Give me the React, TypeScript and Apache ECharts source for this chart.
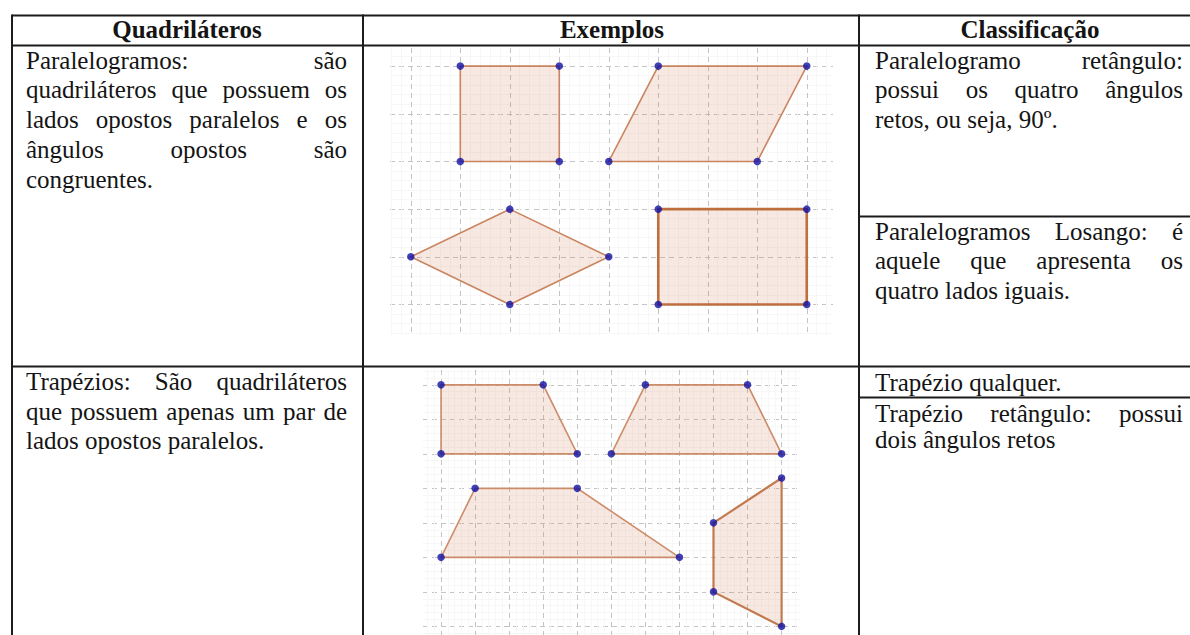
import React, { useEffect, useRef } from "react";
import * as echarts from "echarts";

// ---------- Text content ----------
const headers = ["Quadriláteros", "Exemplos", "Classificação"];

const textParalelogramos = [
  "Paralelogramos: são",
  "quadriláteros que possuem os",
  "lados opostos paralelos e os",
  "ângulos opostos são",
  "congruentes.",
];
const textTrapezios = [
  "Trapézios: São quadriláteros",
  "que possuem apenas um par de",
  "lados opostos paralelos.",
];
const textRetangulo = [
  "Paralelogramo retângulo:",
  "possui os quatro ângulos",
  "retos, ou seja, 90º.",
];
const textLosango = [
  "Paralelogramos Losango: é",
  "aquele que apresenta os",
  "quatro lados iguais.",
];
const textTrapezioQualquer = ["Trapézio qualquer."];
const textTrapezioRetangulo = ["Trapézio retângulo: possui", "dois ângulos retos"];

// ---------- Figure vertices (grid units) ----------
const quadrado = [[1, 0], [3, 0], [3, 2], [1, 2]];
const paralelogramo = [[5, 0], [8, 0], [7, 2], [4, 2]];
const losango = [[2, 3], [4, 4], [2, 5], [0, 4]];
const retangulo = [[5, 3], [8, 3], [8, 5], [5, 5]];

const trapezioRet = [[0, 0], [3, 0], [4, 2], [0, 2]];
const trapezioIso = [[6, 0], [9, 0], [10, 2], [5, 2]];
const trapezioEsc = [[1, 3], [4, 3], [7, 5], [0, 5]];
const trapezioVert = [[8, 4], [10, 2.7], [10, 7], [8, 6]];

const shapesTop = [quadrado, paralelogramo, losango, retangulo];
const shapesBottom = [trapezioRet, trapezioIso, trapezioEsc, trapezioVert];

// ---------- Styles ----------
const FONT_FAMILY = "Liberation Serif";
const FONT_SIZE = 25;
const TEXT_COLOR = "#141414";
const BORDER = "#1c1c1c";
const FILL = "rgba(205,120,85,0.17)";
const strokeTop = ["#c9855f", "#c9855f", "#c9855f", "#bf6e3e"];
const widthTop = [1.6, 1.6, 1.6, 2.6];
const strokeBottom = ["#cc8c68", "#cc8c68", "#cc8c68", "#c27a50"];
const widthBottom = [1.6, 1.6, 1.6, 2.2];

let measureCtx: CanvasRenderingContext2D | null = null;
function measure(t: string, bold = false): number {
  if (!measureCtx) measureCtx = document.createElement("canvas").getContext("2d");
  if (!measureCtx) return t.length * FONT_SIZE * 0.45;
  measureCtx.font = `${bold ? "bold " : ""}${FONT_SIZE}px ${FONT_FAMILY}`;
  return measureCtx.measureText(t).width;
}

const MID_OFFSET = 8.4;

function textEl(text: string, x: number, baseline: number, opts: any = {}) {
  const style: any = {
    text,
    fontSize: FONT_SIZE,
    fontFamily: FONT_FAMILY,
    fill: TEXT_COLOR,
    textAlign: opts.align || "left",
    align: opts.align || "left",
    textVerticalAlign: "middle",
    verticalAlign: "middle",
  };
  if (opts.bold) style.fontWeight = "bold";
  return {
    type: "text",
    x,
    y: baseline - MID_OFFSET,
    silent: true,
    style,
  };
}

function paragraph(lines: string[], x0: number, x1: number, firstBaseline: number, step: number) {
  const els: any[] = [];
  lines.forEach((line, i) => {
    const base = firstBaseline + i * step;
    const words = line.split(" ");
    const justify = i < lines.length - 1 && words.length > 1;
    if (!justify) {
      els.push(textEl(line, x0, base));
      return;
    }
    const widths = words.map((w) => measure(w));
    const total = widths.reduce((a, b) => a + b, 0);
    const gap = (x1 - x0 - total) / (words.length - 1);
    let x = x0;
    words.forEach((w, k) => {
      if (k === words.length - 1) {
        els.push(textEl(w, x1, base, { align: "right" }));
      } else {
        els.push(textEl(w, x, base));
      }
      x += widths[k] + gap;
    });
  });
  return els;
}

function hline(x1: number, x2: number, y: number) {
  return { type: "line", silent: true, shape: { x1, y1: y, x2, y2: y }, style: { stroke: BORDER, lineWidth: 2 } };
}
function vline(x: number, y1: number, y2: number) {
  return { type: "line", silent: true, shape: { x1: x, y1, x2: x, y2 }, style: { stroke: BORDER, lineWidth: 2 } };
}

function axis(min: number, max: number, splitNumber: number, gridIndex: number, inverse = false) {
  return {
    type: "value",
    gridIndex,
    min,
    max,
    splitNumber,
    inverse,
    axisLine: { show: false },
    axisTick: { show: false },
    axisLabel: { show: false },
    splitLine: {
      show: true,
      showMinLine: false,
      showMaxLine: false,
      lineStyle: { color: "#c4c4c4", type: [5, 4], width: 1 },
    },
    minorTick: { show: false, splitNumber: 5 },
    minorSplitLine: { show: true, lineStyle: { color: "#f7f7f7", width: 1 } },
  };
}

function polySeries(shapes: number[][][], idx: number, strokes: string[], widths: number[]) {
  return {
    type: "custom",
    xAxisIndex: idx,
    yAxisIndex: idx,
    z: 2,
    data: shapes.map((s) => s[0]),
    renderItem: (params: any, api: any) => {
      const pts = shapes[params.dataIndex].map((p) => api.coord(p));
      return {
        type: "polygon",
        shape: { points: pts },
        style: { fill: FILL, stroke: strokes[params.dataIndex], lineWidth: widths[params.dataIndex] },
      };
    },
  };
}

function pointSeries(shapes: number[][][], idx: number) {
  return {
    type: "scatter",
    xAxisIndex: idx,
    yAxisIndex: idx,
    z: 3,
    symbolSize: 7.5,
    itemStyle: { color: "#1010a2" },
    data: shapes.flat(),
  };
}

export default function App() {
  const ref = useRef<HTMLDivElement>(null);
  useEffect(() => {
    if (!ref.current) return;
    const chart = echarts.init(ref.current, undefined, { renderer: "svg" });

    const COL1_X0 = 26, COL1_X1 = 347;
    const COL3_X0 = 875, COL3_X1 = 1183;

    const graphics: any[] = [
      // table borders
      hline(12, 1190, 15.5),
      hline(12, 1190, 45.5),
      hline(12, 1190, 366.5),
      hline(859, 1190, 216.5),
      hline(859, 1190, 397.5),
      vline(12, 14.5, 635),
      vline(363, 14.5, 635),
      vline(859, 14.5, 635),
      // headers
      textEl(headers[0], 187, 37.5, { bold: true, align: "center" }),
      textEl(headers[1], 612, 37.5, { bold: true, align: "center" }),
      textEl(headers[2], 1030, 37.5, { bold: true, align: "center" }),
      ...paragraph(textParalelogramos, COL1_X0, COL1_X1, 68.5, 29.8),
      ...paragraph(textTrapezios, COL1_X0, COL1_X1, 390, 29.5),
      ...paragraph(textRetangulo, COL3_X0, COL3_X1, 68.5, 29.8),
      ...paragraph(textLosango, COL3_X0, COL3_X1, 239.5, 29.5),
      ...paragraph(textTrapezioQualquer, COL3_X0, COL3_X1, 391, 30),
      ...paragraph(textTrapezioRetangulo, COL3_X0, COL3_X1, 422, 26),
    ];

    chart.setOption({
      animation: false,
      backgroundColor: "#ffffff",
      grid: [
        { left: 390, top: 48, width: 443, height: 287 },
        { left: 423, top: 370, width: 377, height: 265 },
      ],
      xAxis: [axis(-0.42, 8.53, 9, 0), axis(-0.53, 10.54, 11, 1)],
      yAxis: [axis(-0.38, 5.64, 6, 0, true), axis(-0.43, 7.25, 8, 1, true)],
      series: [
        polySeries(shapesTop, 0, strokeTop, widthTop),
        polySeries(shapesBottom, 1, strokeBottom, widthBottom),
        pointSeries(shapesTop, 0),
        pointSeries(shapesBottom, 1),
      ],
      graphic: { elements: graphics },
    });

    return () => chart.dispose();
  }, []);

  return (
    <div
      ref={ref}
      style={{ position: "absolute", left: 0, top: 0, width: 1190, height: 635, background: "#fff" }}
    />
  );
}
